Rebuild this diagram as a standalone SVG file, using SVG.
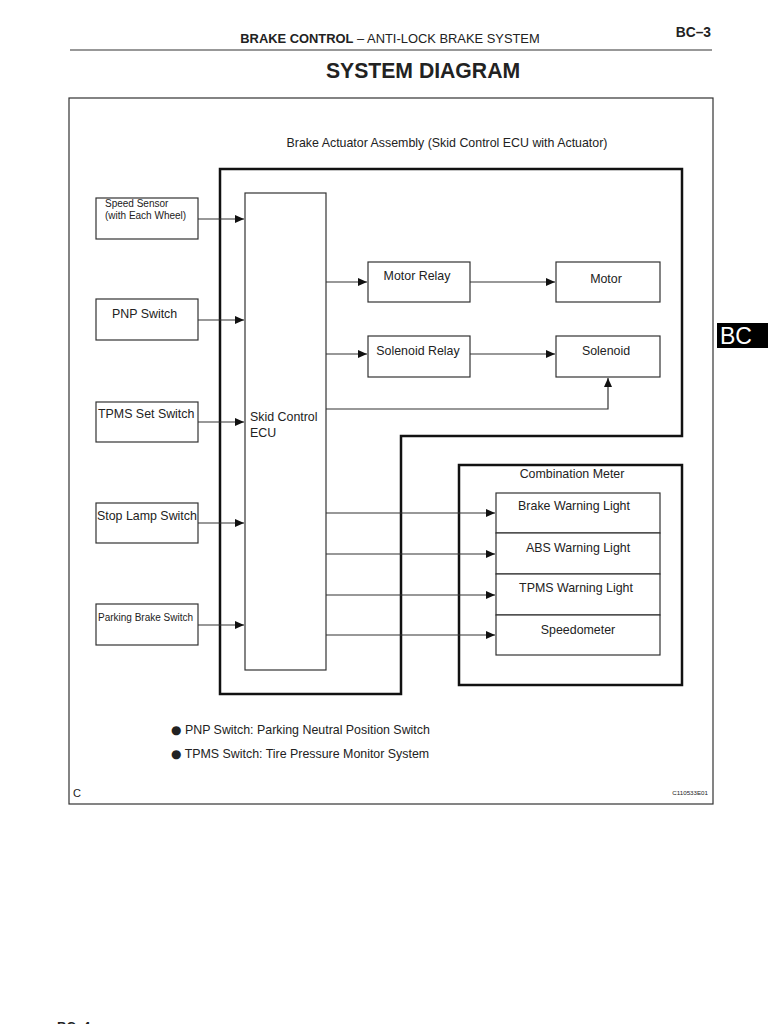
<svg xmlns="http://www.w3.org/2000/svg" width="768" height="1024" viewBox="0 0 768 1024">
<style>
text{font-family:"Liberation Sans",Arial,sans-serif;fill:#222}
.box{fill:#fff;stroke:#333;stroke-width:1.2}
.thick{fill:none;stroke:#111;stroke-width:2.5}
.ln{fill:none;stroke:#333;stroke-width:1.2}
.t11{font-size:12.4px}
.t9{font-size:10px}
.bul{font-family:"DejaVu Sans",sans-serif;font-size:12px}
</style>
<defs>
<marker id="ar" markerWidth="10" markerHeight="10" refX="9" refY="4" orient="auto" markerUnits="userSpaceOnUse">
<path d="M0,0 L9,4 L0,8 Z" fill="#111"/>
</marker>
</defs>
<rect width="768" height="1024" fill="#fff"/>
<g id="header">
<text x="390" y="43" text-anchor="middle" font-size="12.9"><tspan font-weight="bold">BRAKE CONTROL</tspan>  –  ANTI-LOCK BRAKE SYSTEM</text>
<text x="711" y="37" text-anchor="end" font-size="13.8" font-weight="bold">BC–3</text>
<line x1="70" y1="50" x2="712" y2="50" stroke="#333" stroke-width="1.2"/>
<text x="423" y="78" text-anchor="middle" font-size="21.2" font-weight="bold">SYSTEM DIAGRAM</text>
</g>
<rect x="69" y="98" width="644" height="706" fill="none" stroke="#333" stroke-width="1.2"/>
<g id="actuator">
<path class="thick" d="M220,169 H682 V436 H401 V694 H220 Z"/>
<text x="447" y="147" text-anchor="middle" class="t11">Brake Actuator Assembly (Skid Control ECU with Actuator)</text>
</g>
<g id="ecu">
<rect class="box" x="245" y="193" width="81" height="477"/>
<text x="250" y="421" class="t11">Skid Control</text>
<text x="250" y="437" class="t11">ECU</text>
</g>
<g id="speed-sensor">
<rect class="box" x="96" y="198" width="102" height="41"/>
<text x="105" y="207" class="t9">Speed Sensor</text>
<text x="105" y="219" class="t9">(with Each Wheel)</text>
</g>
<g id="pnp-switch">
<rect class="box" x="96" y="299" width="102" height="41"/>
<text x="112" y="318" class="t11">PNP Switch</text>
</g>
<g id="tpms-set-switch">
<rect class="box" x="96" y="402" width="102" height="40"/>
<text x="98" y="418" class="t11">TPMS Set Switch</text>
</g>
<g id="stop-lamp-switch">
<rect class="box" x="96" y="503" width="102" height="40"/>
<text x="97" y="520" class="t11">Stop Lamp Switch</text>
</g>
<g id="parking-brake-switch">
<rect class="box" x="96" y="604" width="102" height="41"/>
<text x="98" y="621" class="t9">Parking Brake Switch</text>
</g>
<g id="motor-relay">
<rect class="box" x="368" y="262" width="102" height="40"/>
<text x="417" y="280" text-anchor="middle" class="t11">Motor Relay</text>
</g>
<g id="motor">
<rect class="box" x="556" y="262" width="104" height="40"/>
<text x="606" y="283" text-anchor="middle" class="t11">Motor</text>
</g>
<g id="solenoid-relay">
<rect class="box" x="368" y="336" width="102" height="41"/>
<text x="418" y="355" text-anchor="middle" class="t11">Solenoid Relay</text>
</g>
<g id="solenoid">
<rect class="box" x="556" y="336" width="104" height="41"/>
<text x="606" y="355" text-anchor="middle" class="t11">Solenoid</text>
</g>
<g id="combination-meter">
<rect class="thick" x="459" y="465" width="223" height="220"/>
<text x="572" y="478" text-anchor="middle" class="t11">Combination Meter</text>
</g>
<g id="brake-warning-light">
<rect class="box" x="496" y="493" width="164" height="40"/>
<text x="574" y="510" text-anchor="middle" class="t11">Brake Warning Light</text>
</g>
<g id="abs-warning-light">
<rect class="box" x="496" y="533" width="164" height="41"/>
<text x="578" y="552" text-anchor="middle" class="t11">ABS Warning Light</text>
</g>
<g id="tpms-warning-light">
<rect class="box" x="496" y="574" width="164" height="41"/>
<text x="576" y="592" text-anchor="middle" class="t11">TPMS Warning Light</text>
</g>
<g id="speedometer">
<rect class="box" x="496" y="615" width="164" height="40"/>
<text x="578" y="634" text-anchor="middle" class="t11">Speedometer</text>
</g>
<g id="connectors">
<line class="ln" x1="198" y1="219" x2="244" y2="219" marker-end="url(#ar)"/>
<line class="ln" x1="198" y1="320" x2="244" y2="320" marker-end="url(#ar)"/>
<line class="ln" x1="198" y1="422" x2="244" y2="422" marker-end="url(#ar)"/>
<line class="ln" x1="198" y1="523" x2="244" y2="523" marker-end="url(#ar)"/>
<line class="ln" x1="198" y1="625" x2="244" y2="625" marker-end="url(#ar)"/>
<line class="ln" x1="326" y1="282" x2="367" y2="282" marker-end="url(#ar)"/>
<line class="ln" x1="470" y1="282" x2="555" y2="282" marker-end="url(#ar)"/>
<line class="ln" x1="326" y1="354" x2="367" y2="354" marker-end="url(#ar)"/>
<line class="ln" x1="470" y1="354" x2="555" y2="354" marker-end="url(#ar)"/>
<path class="ln" d="M326,409 H608 V378" marker-end="url(#ar)"/>
<line class="ln" x1="326" y1="513" x2="495" y2="513" marker-end="url(#ar)"/>
<line class="ln" x1="326" y1="554" x2="495" y2="554" marker-end="url(#ar)"/>
<line class="ln" x1="326" y1="595" x2="495" y2="595" marker-end="url(#ar)"/>
<line class="ln" x1="326" y1="635" x2="495" y2="635" marker-end="url(#ar)"/>
</g>
<g id="notes">
<text x="171" y="734" class="t11"><tspan class="bul">●</tspan> PNP Switch: Parking Neutral Position Switch</text>
<text x="171" y="758" class="t11"><tspan class="bul">●</tspan> TPMS Switch: Tire Pressure Monitor System</text>
<text x="73" y="797" font-size="11">C</text>
<text x="708" y="795" text-anchor="end" font-size="6.2">C110533E01</text>
</g>
<g id="tab">
<rect x="717" y="323" width="51" height="25" fill="#000"/>
<text x="720" y="344" font-size="23" style="fill:#fff">BC</text>
</g>
<text x="57" y="1031" font-size="13" font-weight="bold">BC–4</text>
</svg>
